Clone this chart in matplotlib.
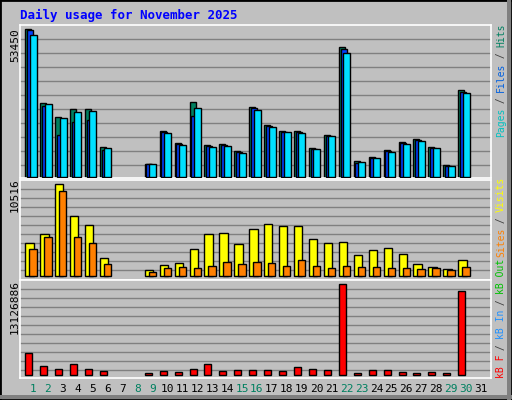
import matplotlib
matplotlib.use("Agg")
import matplotlib.pyplot as plt
from matplotlib.patches import Rectangle

days = list(range(1, 32))
hit_days = [1,2,3,4,5,6,9,10,11,12,13,14,15,16,17,18,19,20,21,22,23,24,25,26,27,28,29,30]
hits  = [53450,26600,21520,24420,24420,10640,4470,16440,12090,26960,11370,11730,9190,25150,18620,16440,16440,10280,14990,46910,5560,7010,9550,12450,13540,10640,4110,31310]
files = [53080,25510,15110,19710,20430,9550,4470,16080,11730,21880,11000,11370,8830,24790,18260,16080,16080,9910,14630,46180,4840,6650,9190,12090,13180,10280,3750,30590]
pages = [51260,26240,21160,23330,23700,10280,4470,15720,11370,24790,10640,11000,8460,24060,17890,16080,15720,9910,14630,44730,5200,6650,8830,11730,12820,10280,3750,30230]
visits = [3772,4801,10516,6858,5829,2057,686,1257,1486,3086,4801,4915,3658,5372,5944,5715,5715,4229,3772,3886,2400,2972,3200,2515,1372,1029,800,1829]
sites  = [3086,4458,9716,4458,3772,1372,457,914,1029,914,1143,1600,1372,1600,1486,1143,1829,1143,914,1143,1029,1029,914,914,800,914,686,1029]
kbytes = [3173544,1298268,865512,1586772,865512,577008,288504,577008,432756,865512,1586772,577008,721260,721260,721260,577008,1154016,865512,721260,13126886,288504,721260,721260,432756,288504,432756,288504,12117168]
weekend = [1,2,8,9,15,16,22,23,29,30]
title = "Daily usage for November 2025"

W, H = 512, 400
BG = "#C0C0C0"
fig = plt.figure(figsize=(W/100, H/100), dpi=100, facecolor=BG)
mono = "DejaVu Sans Mono"

fig.patches.append(Rectangle((0, 0), 1, 1, transform=fig.transFigure, fill=False, ec="black", lw=2))
fig.patches.append(Rectangle((1-5/W, 0), 4/W, 1, transform=fig.transFigure, fc="#808080", ec="none"))
fig.patches.append(Rectangle((0, 1/H), 1, 4/H, transform=fig.transFigure, fc="#808080", ec="none"))

x0, x1 = 20, 491
s = 14.93
xl = (1 - (33 - x0)/s, 1 + (x1 - 33)/s)

def mkax(top, bot, base, maxpix, maxval, grid0, ngrid, gstep):
    ax = fig.add_axes([x0/W, 1 - bot/H, (x1-x0)/W, (bot-top)/H])
    ax.set_facecolor(BG)
    unit = maxval / maxpix
    ax.set_ylim(-(bot-base)*unit, (base-top)*unit)
    ax.set_xlim(*xl)
    for k in range(ngrid):
        p = grid0 + k*gstep
        ax.axhline((base-p)*unit, color="#808080", lw=1.0, zorder=0)
    for sp in ax.spines.values():
        sp.set_color("white"); sp.set_linewidth(1.2)
    ax.set_xticks([]); ax.set_yticks([])
    return ax

ax1 = mkax(25, 178, 176.7, 147.4, 53450, 39.3, 10, 14)
ax2 = mkax(180, 280, 276.3, 92, 10516, 189.3, 10, 9)
ax3 = mkax(280, 378, 375.3, 91, 13126886, 289.3, 10, 9)

def px(p):
    return p / s

ax1.bar([d + px(-7.7) for d in hit_days], hits, width=px(6), align="edge", color="#008060", ec="black", lw=1, zorder=2)
ax1.bar([d + px(-6) for d in hit_days], files, width=px(6), align="edge", color="#0040FF", ec="black", lw=1, zorder=3)
ax1.bar([d + px(-3.3) for d in hit_days], pages, width=px(7), align="edge", color="#00E0FF", ec="black", lw=1, zorder=4)
ax2.bar([d + px(-7.7) for d in hit_days], visits, width=px(8.3), align="edge", color="#FFFF00", ec="black", lw=1, zorder=2)
ax2.bar([d + px(-3.7) for d in hit_days], sites, width=px(7.3), align="edge", color="#FF8000", ec="black", lw=1, zorder=3)
ax3.bar([d + px(-7.7) for d in hit_days], kbytes, width=px(7), align="edge", color="#FF0000", ec="black", lw=1, zorder=2)

fig.text(20/W, 1 - 15/H, title, color="#0000FF", fontsize=9, fontweight="bold", family=mono, va="center", ha="left")

for val, yc in [(hits[0], 45), (visits[2], 195), (kbytes[19], 307)]:
    fig.text(15/W, 1 - yc/H, str(val), rotation=90, fontsize=8, family=mono, va="center", ha="center")

def side(parts, ybottom, ch=5.6):
    y = ybottom
    for txt, col in parts:
        fig.text(501/W, 1 - y/H, txt, rotation=90, color=col, fontsize=7, family=mono,
                 va="bottom", ha="center")
        y -= ch * len(txt)

side([("Pages", "#00C0C0"), (" / ", "#404040"), ("Files", "#0060E0"), (" / ", "#404040"), ("Hits", "#008060")], 137)
side([("Sites", "#FF8000"), (" / ", "#404040"), ("Visits", "#FFFF00")], 257)
side([("kB F", "#FF0000"), (" / ", "#404040"), ("kB In", "#1E90FF"), (" / ", "#404040"), ("kB Out", "#00C000")], 378)

for d in days:
    xpix = 33 + (d-1)*s
    fig.text(xpix/W, 1 - 389/H, str(d), fontsize=8, family=mono, ha="center", va="center",
             color="#008060" if d in weekend else "black")

fig.savefig("out.png", dpi=100, facecolor=BG)
